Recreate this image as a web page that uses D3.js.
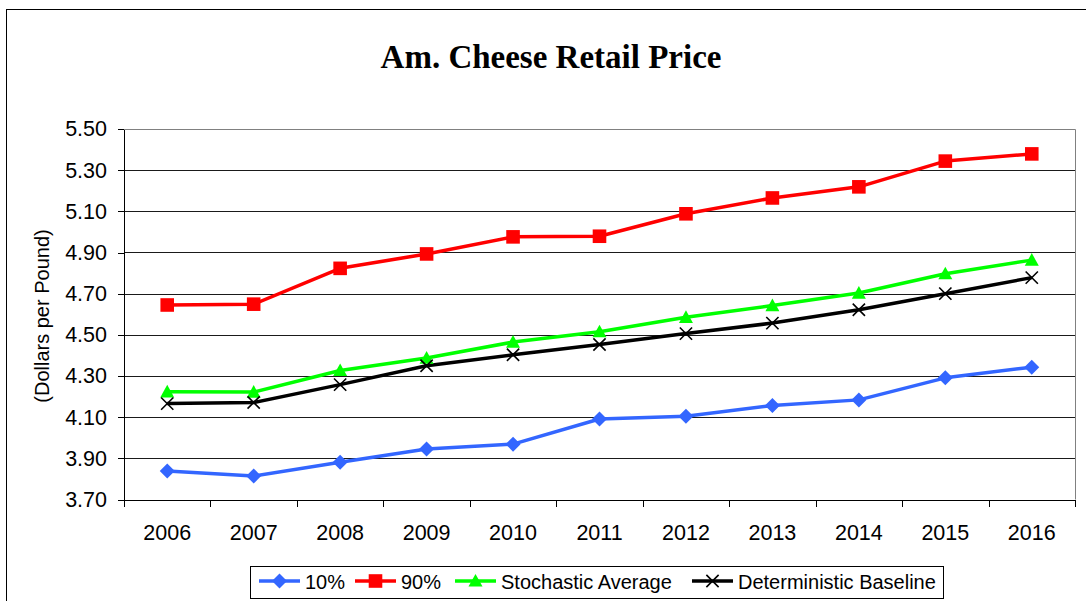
<!DOCTYPE html>
<html>
<head>
<meta charset="utf-8">
<script src="https://cdn.jsdelivr.net/npm/d3@7"></script>
<style>
    body { margin:0; background:#fff; }
    svg { display:block; font-family:Arial, 'Liberation Sans', sans-serif; }
    .grid line { stroke:#1a1a1a; stroke-width:1; shape-rendering:crispEdges; }
    .axis path, .axis line { stroke:#000; shape-rendering:crispEdges; }
    .axis text { fill:#000; }
</style>
</head>
<body>
<svg id="chart" width="1086" height="601"></svg>
<script>
    // chart data
    var years = ['2006','2007','2008','2009','2010','2011','2012','2013','2014','2015','2016'];

    var p10   = [3.838, 3.814, 3.881, 3.945, 3.969, 4.091, 4.104, 4.157, 4.184, 4.291, 4.343];
    var p90   = [4.645, 4.649, 4.823, 4.893, 4.976, 4.979, 5.088, 5.165, 5.219, 5.344, 5.379];
    var stoch = [4.223, 4.222, 4.327, 4.387, 4.465, 4.515, 4.585, 4.642, 4.703, 4.797, 4.863];
    var determ = [4.166, 4.171, 4.258, 4.350, 4.403, 4.453, 4.506, 4.557, 4.622, 4.700, 4.778];

    var yTicks = [3.70, 3.90, 4.10, 4.30, 4.50, 4.70, 4.90, 5.10, 5.30, 5.50];

    var names = ['10%', '90%', 'Stochastic Average', 'Deterministic Baseline'];

    /******************************************************************
        marker shapes
     ******************************************************************/
    var diamond = {
        draw: function(ctx, size) {
            var r = Math.sqrt(size) / 2;
            ctx.moveTo(0, -r); ctx.lineTo(r, 0); ctx.lineTo(0, r); ctx.lineTo(-r, 0); ctx.closePath();
        }
    };
    var square = {
        draw: function(ctx, size) {
            var r = Math.sqrt(size) / 2;
            ctx.rect(-r, -r, 2*r, 2*r);
        }
    };
    var triangle = {
        draw: function(ctx, size) {
            var r = Math.sqrt(size) / 2;
            ctx.moveTo(0, -r); ctx.lineTo(r, r*0.8); ctx.lineTo(-r, r*0.8); ctx.closePath();
        }
    };
    var cross = {
        draw: function(ctx, size) {
            var r = Math.sqrt(size) / 2;
            ctx.moveTo(-r, -r); ctx.lineTo(r, r);
            ctx.moveTo(r, -r); ctx.lineTo(-r, r);
        }
    };

    var series = [
        { name:names[0], values:p10,    color:'#3366FF', type:diamond,  size:225, filled:true },
        { name:names[1], values:p90,    color:'#FF0000', type:square,   size:185, filled:true },
        { name:names[2], values:stoch,  color:'#00FF00', type:triangle, size:196, filled:true },
        { name:names[3], values:determ, color:'#000000', type:cross,    size:150, filled:false }
    ];

    var svg = d3.select('#chart');

    // outer chart frame
    svg.append('rect')
        .attr('x', 6.5).attr('y', 9.5)
        .attr('width', 1100).attr('height', 620)
        .attr('fill', '#fff')
        .attr('stroke', '#000');

    var L = 124, R = 1075, T = 129, B = 499.5;

    var x = d3.scaleBand().domain(years).range([L, R]).padding(0);
    var y = d3.scaleLinear().domain([3.7, 5.5]).range([B, T]);

    // title
    svg.append('text')
        .attr('x', 551).attr('y', 68)
        .attr('text-anchor', 'middle')
        .style('font-family', "'Liberation Serif', 'Times New Roman', serif")
        .style('font-weight', 'bold')
        .style('font-size', '33px')
        .text('Am. Cheese Retail Price');

    // gridlines
    svg.append('g').attr('class', 'grid')
        .selectAll('line')
        .data(yTicks.slice(1, -1)).enter()
            .append('line')
            .attr('x1', L).attr('x2', R)
            .attr('y1', function(d){ return Math.round(y(d)) + 0.5; })
            .attr('y2', function(d){ return Math.round(y(d)) + 0.5; });

    // plot frame top/right
    svg.append('path')
        .attr('d', 'M' + L + ',' + (T + 0.5) + 'H' + (R + 0.5) + 'V' + B)
        .attr('fill', 'none')
        .attr('stroke', '#808080');

    // y axis
    var yAxis = svg.append('g')
        .attr('class', 'axis')
        .attr('transform', 'translate(' + L + ',0)')
        .call(d3.axisLeft(y).tickValues(yTicks).tickFormat(d3.format('.2f'))
                .tickSize(6).tickPadding(11).tickSizeOuter(0));
    yAxis.selectAll('text').style('font-size', '21.5px').style('font-family', 'Arial, "Liberation Sans", sans-serif');

    // x axis: labels centered, ticks on category boundaries
    var xAxis = svg.append('g')
        .attr('class', 'axis')
        .attr('transform', 'translate(0,' + B + ')')
        .call(d3.axisBottom(x).tickSize(0).tickPadding(25).tickSizeOuter(0));
    xAxis.selectAll('text').style('font-size', '21.5px').style('font-family', 'Arial, "Liberation Sans", sans-serif');

    xAxis.selectAll('.bound')
        .data(years.concat(['end'])).enter()
            .append('line')
            .attr('class', 'bound')
            .attr('x1', function(d,i){ return Math.round(L + i * x.step()) + 0.5; })
            .attr('x2', function(d,i){ return Math.round(L + i * x.step()) + 0.5; })
            .attr('y1', 0).attr('y2', 7)
            .attr('stroke', '#000');

    // y title
    svg.append('text')
        .attr('transform', 'translate(49,316) rotate(-90)')
        .attr('text-anchor', 'middle')
        .style('font-size', '20px')
        .text('(Dollars per Pound)');

    /******************************************************************
        series
     ******************************************************************/
    var line = d3.line()
        .x(function(d,i){ return x(years[i]) + x.bandwidth() / 2; })
        .y(function(d){ return y(d); });

    var g = svg.append('g').attr('class', 'series');

    series.forEach(function(s) {
        g.append('path')
            .attr('d', line(s.values))
            .attr('fill', 'none')
            .attr('stroke', s.color)
            .attr('stroke-width', 3.5)
            .attr('stroke-linejoin', 'round');
    });

    series.forEach(function(s) {
        var sym = d3.symbol().type(s.type).size(s.size);
        g.selectAll(null)
            .data(s.values).enter()
                .append('path')
                .attr('d', sym)
                .attr('transform', function(d,i) {
                    return 'translate(' + [x(years[i]) + x.bandwidth() / 2, y(d)] + ')';
                })
                .attr('fill', s.filled ? s.color : 'none')
                .attr('stroke', s.color)
                .attr('stroke-width', s.filled ? 0 : 1.6);
    });

    /******************************************************************
        legend
     ******************************************************************/
    var legend = svg.append('g').attr('class', 'legend');

    legend.append('rect')
        .attr('x', 250.5).attr('y', 566.5)
        .attr('width', 693).attr('height', 32)
        .attr('fill', '#fff')
        .attr('stroke', '#000');

    var lx = [259, 355, 455, 692];

    series.forEach(function(s, i) {
        var item = legend.append('g')
            .attr('transform', 'translate(' + [lx[i], 581] + ')');

        item.append('line')
            .attr('x1', 0).attr('x2', 41)
            .attr('stroke', s.color)
            .attr('stroke-width', 3.5);

        item.append('path')
            .attr('d', d3.symbol().type(s.type).size(s.size))
            .attr('transform', 'translate(20.5,0)')
            .attr('fill', s.filled ? s.color : 'none')
            .attr('stroke', s.color)
            .attr('stroke-width', s.filled ? 0 : 1.6);

        item.append('text')
            .attr('x', 46).attr('y', 7.5)
            .style('font-size', '20px')
            .text(s.name);
    });
</script>
</body>
</html>
